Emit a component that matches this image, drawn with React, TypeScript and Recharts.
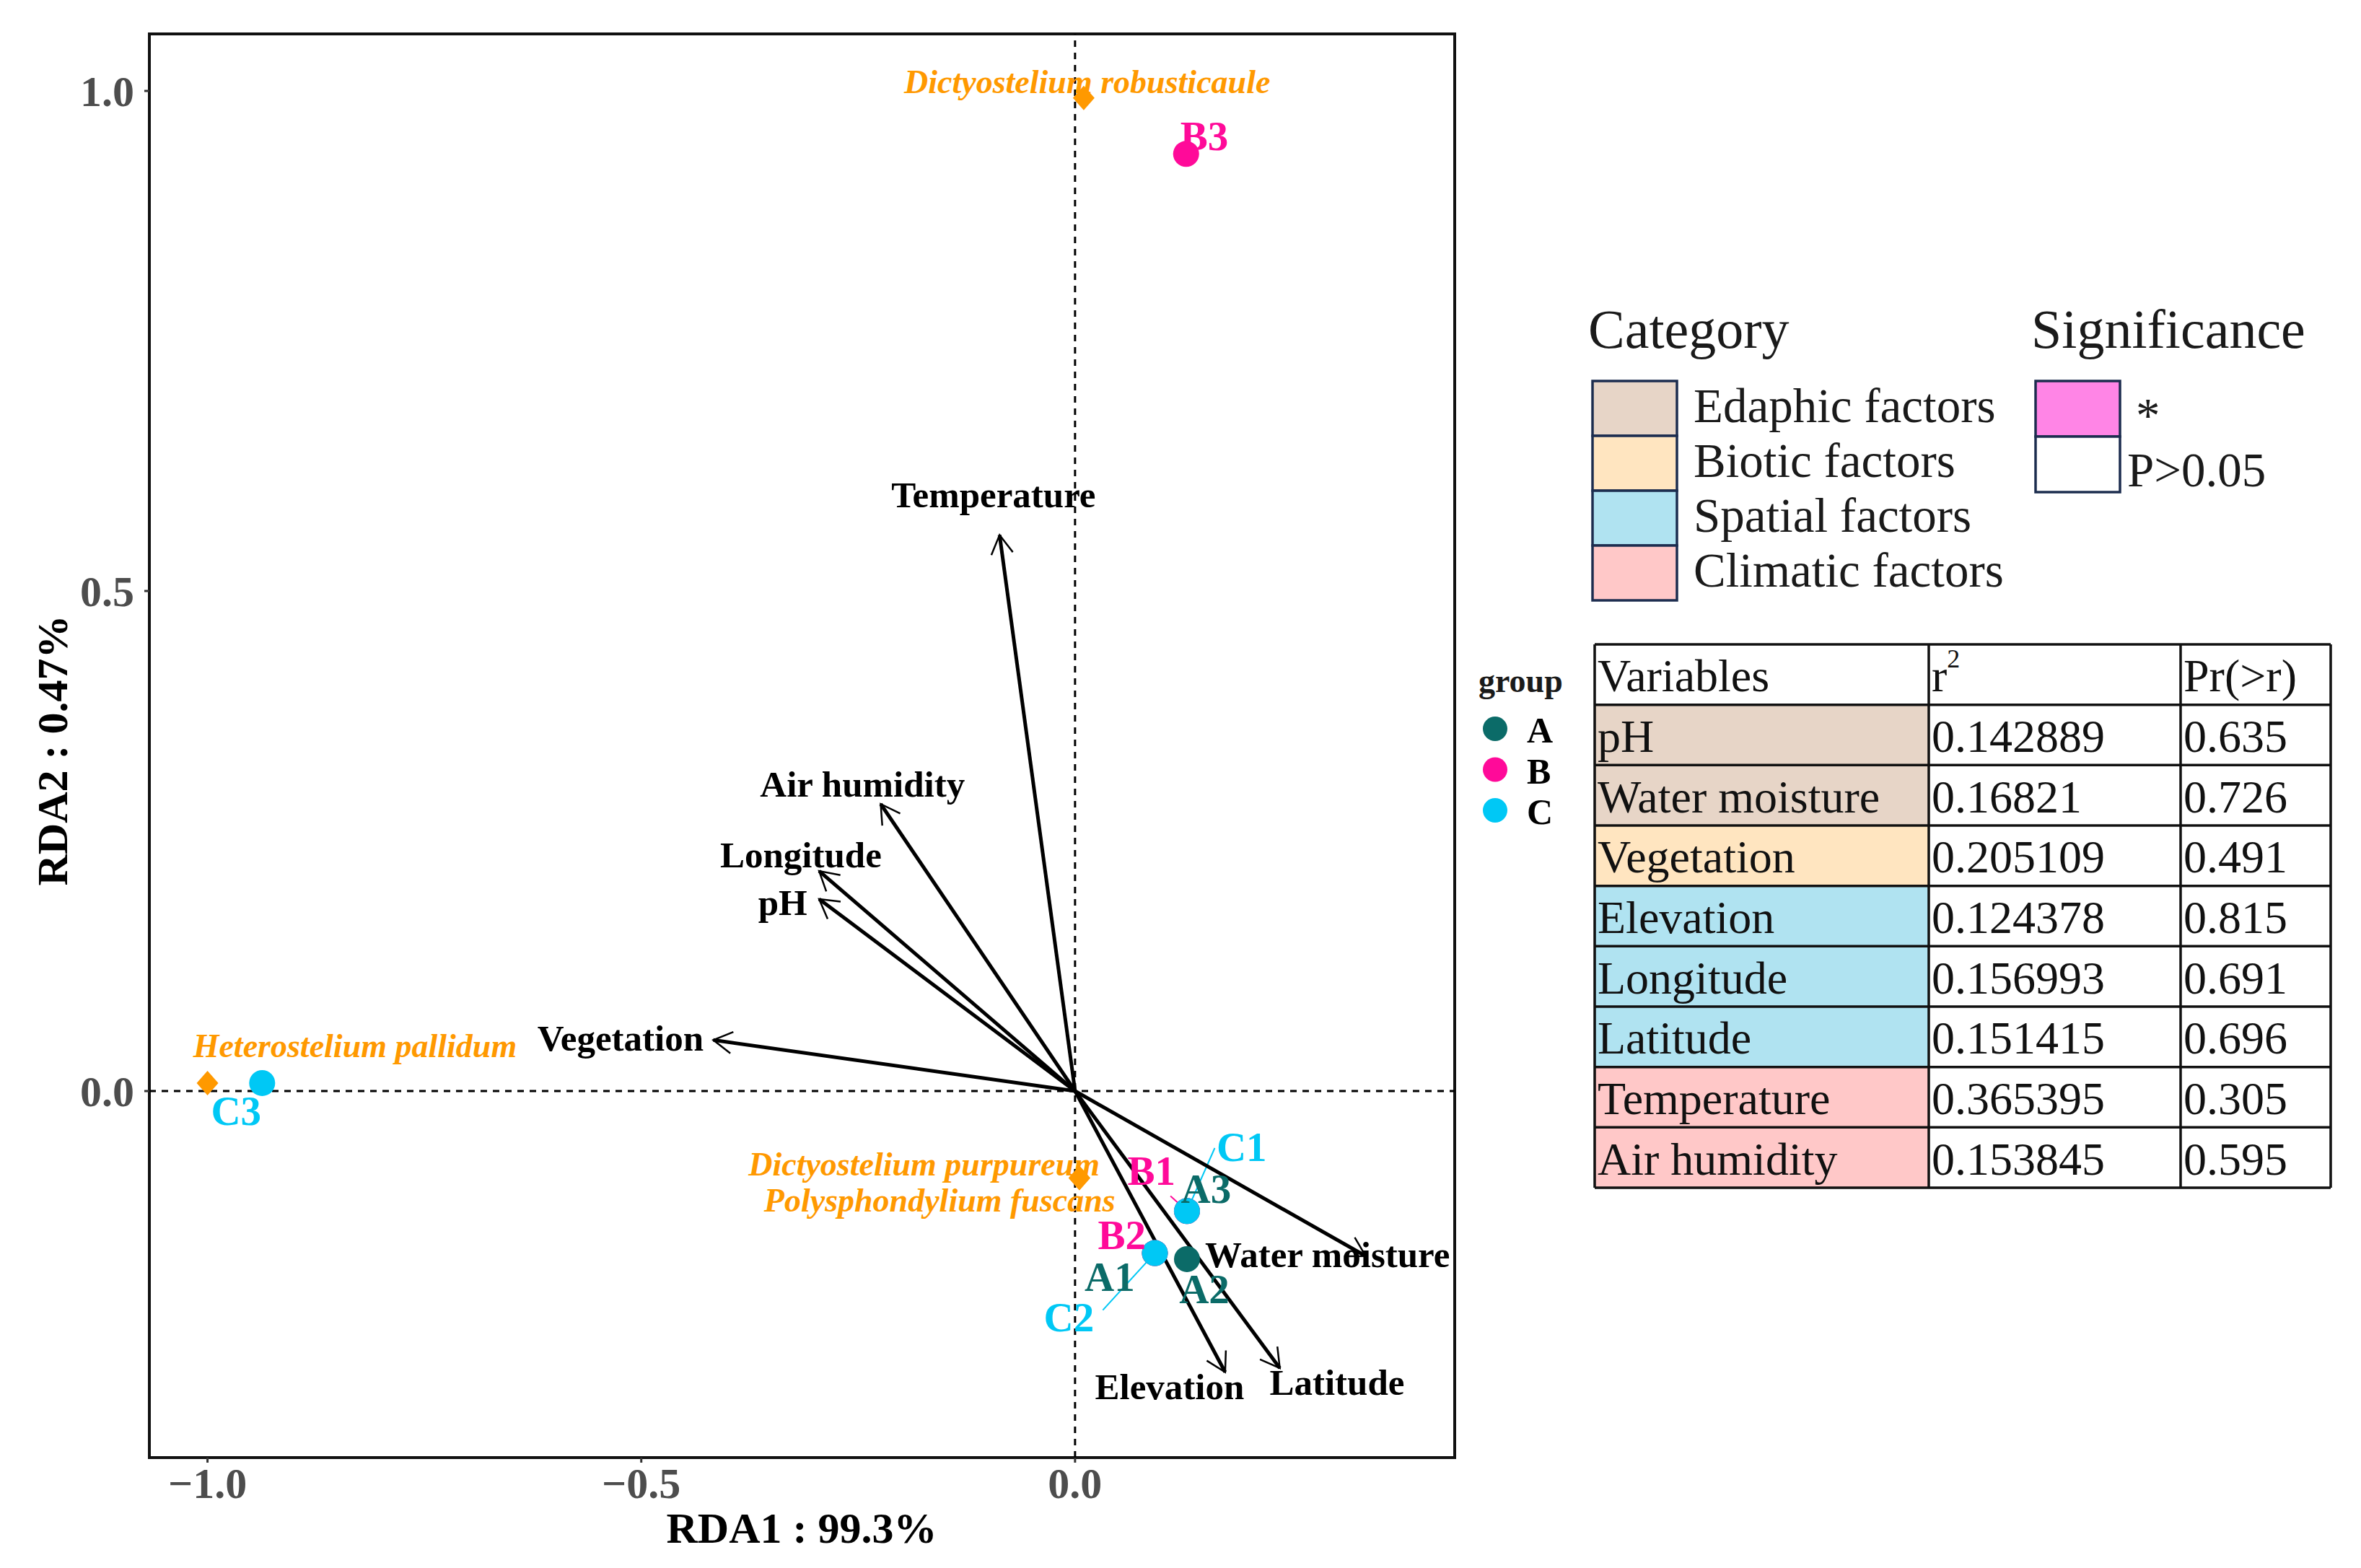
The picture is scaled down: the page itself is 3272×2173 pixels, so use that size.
import React from "react";
import {
  ScatterChart,
  Scatter,
  XAxis,
  YAxis,
  ReferenceLine,
  ReferenceArea,
} from "recharts";

const SERIF = '"Liberation Serif", "Times New Roman", serif';

// environmental fitted vectors (arrow tips) and where their names sit
const envNames = ["Temperature", "Air humidity", "Longitude", "pH", "Vegetation", "Water moisture", "Elevation", "Latitude"];
const envRDA1 = [-0.087, -0.224, -0.295, -0.295, -0.417, 0.335, 0.173, 0.236];
const envRDA2 = [0.556, 0.287, 0.22, 0.192, 0.051, -0.165, -0.281, -0.277];
const envLabelRDA1 = [-0.094, -0.245, -0.316, -0.337, -0.524, 0.291, 0.109, 0.302];
const envLabelRDA2 = [0.596, 0.307, 0.236, 0.188, 0.053, -0.164, -0.296, -0.2915];

// sites
const groupNames = ["A", "B", "C"];
const groupColors = ["#0B6B68", "#FF0A99", "#00C8F5"];
const siteNames = ["A1", "A2", "A3", "B1", "B2", "B3", "C1", "C2", "C3"];
const siteGroup = ["A", "A", "A", "B", "B", "B", "C", "C", "C"];
const siteRDA1 = [0.092, 0.129, 0.129, 0.129, 0.092, 0.128, 0.129, 0.092, -0.937];
const siteRDA2 = [-0.162, -0.168, -0.12, -0.12, -0.162, 0.937, -0.12, -0.162, 0.008];
const siteLabelRDA1 = [0.04, 0.149, 0.151, 0.088, 0.054, 0.149, 0.192, -0.007, -0.967];
const siteLabelRDA2 = [-0.186, -0.198, -0.098, -0.08, -0.1436, 0.955, -0.0556, -0.2265, -0.02];

// repel segments: label end -> site
const segSite = ["C1", "C2", "B1"];
const segFromRDA1 = [0.161, 0.032, 0.11];
const segFromRDA2 = [-0.057, -0.219, -0.105];

// species
const speciesNames = ["Dictyostelium robusticaule", "Heterostelium pallidum", "Dictyostelium purpureum", "Polysphondylium fuscans"];
const speciesRDA1 = [0.01, -1.0, 0.005, 0.005];
const speciesRDA2 = [0.993, 0.008, -0.087, -0.087];
const speciesLabelRDA1 = [0.014, -0.83, -0.174, -0.156];
const speciesLabelRDA2 = [1.009, 0.045, -0.073, -0.109];
const speciesColor = "#FF9900";

// axes
const xTicks = [-1, -0.5, 0];
const yTicks = [0, 0.5, 1];
const xDomain = [-1.067, 0.4376];
const yDomain = [-0.3665, 1.057];

// legend + envfit table
const categoryNames = ["Edaphic factors", "Biotic factors", "Spatial factors", "Climatic factors"];
const categoryColors = ["#E7D5C7", "#FFE5C0", "#B0E3F1", "#FFC8C8"];
const sigNames = ["*", "P>0.05"];
const sigColors = ["#FF85E6", "#FFFFFF"];
const tableVars = ["pH", "Water moisture", "Vegetation", "Elevation", "Longitude", "Latitude", "Temperature", "Air humidity"];
const tableR2 = ["0.142889", "0.16821", "0.205109", "0.124378", "0.156993", "0.151415", "0.365395", "0.153845"];
const tablePr = ["0.635", "0.726", "0.491", "0.815", "0.691", "0.696", "0.305", "0.595"];
const tableCat = [0, 0, 1, 2, 2, 2, 3, 3];

const fmtTick = (v: number) => (v < 0 ? "\u2212" + Math.abs(v).toFixed(1) : v.toFixed(1));
const colorOf = (g: string) => groupColors[groupNames.indexOf(g)];

const ArrowShape = (p: any) => {
  const { x1, y1, x2, y2 } = p;
  const a = Math.atan2(y2 - y1, x2 - x1);
  const len = 30;
  const sp = Math.PI / 6;
  const hx1 = x2 - len * Math.cos(a - sp);
  const hy1 = y2 - len * Math.sin(a - sp);
  const hx2 = x2 - len * Math.cos(a + sp);
  const hy2 = y2 - len * Math.sin(a + sp);
  return (
    <g>
      <line x1={x1} y1={y1} x2={x2} y2={y2} stroke="#000" strokeWidth={5} />
      <polyline points={`${hx1},${hy1} ${x2},${y2} ${hx2},${hy2}`} fill="none" stroke="#000" strokeWidth={2.5} />
    </g>
  );
};

const textShape = (size: number, weight: string, style: string) => (p: any) => (
  <text
    x={p.cx}
    y={p.cy}
    textAnchor="middle"
    dominantBaseline="central"
    fill={p.payload.color}
    fontFamily={SERIF}
    fontSize={size}
    fontWeight={weight}
    fontStyle={style}
  >
    {p.payload.label}
  </text>
);

export default function App() {
  const sitesByGroup = groupNames.map((g) =>
    siteNames
      .map((n, i) => ({ name: n, x: siteRDA1[i], y: siteRDA2[i], g: siteGroup[i] }))
      .filter((d) => d.g === g)
  );
  const speciesPts = speciesNames.map((n, i) => ({ name: n, x: speciesRDA1[i], y: speciesRDA2[i] }));
  const speciesLabels = speciesNames.map((n, i) => ({ label: n, x: speciesLabelRDA1[i], y: speciesLabelRDA2[i], color: speciesColor }));
  const siteLabels = siteNames.map((n, i) => ({ label: n, x: siteLabelRDA1[i], y: siteLabelRDA2[i], color: colorOf(siteGroup[i]) }));
  const envLabels = envNames.map((n, i) => ({ label: n, x: envLabelRDA1[i], y: envLabelRDA2[i], color: "#000" }));

  const tx0 = 2210;
  const colW = [463, 349, 208];
  const ty0 = 893;
  const rowH = 83.67;
  const colX = [tx0, tx0 + colW[0], tx0 + colW[0] + colW[1], tx0 + colW[0] + colW[1] + colW[2]];

  return (
    <div style={{ position: "absolute", left: 0, top: 0, width: 3272, height: 2173, background: "#fff" }}>
      <div style={{ position: "absolute", left: 0, top: 0 }}>
        <ScatterChart width={2100} height={2173} margin={{ top: 47, right: 84, bottom: 0, left: 0 }}>
          <XAxis
            type="number"
            dataKey="x"
            domain={xDomain}
            allowDataOverflow
            ticks={xTicks}
            tickFormatter={fmtTick}
            height={153}
            tickSize={7}
            tickMargin={6}
            axisLine={false}
            tickLine={{ stroke: "#333", strokeWidth: 3 }}
            tick={{ fill: "#4D4D4D", fontSize: 60, fontWeight: "bold", fontFamily: SERIF }}
          />
          <YAxis
            type="number"
            dataKey="y"
            domain={yDomain}
            allowDataOverflow
            ticks={yTicks}
            tickFormatter={fmtTick}
            width={207}
            tickSize={7}
            tickMargin={14}
            axisLine={false}
            tickLine={{ stroke: "#333", strokeWidth: 3 }}
            tick={{ fill: "#4D4D4D", fontSize: 60, fontWeight: "bold", fontFamily: SERIF }}
          />
          <ReferenceLine x={0} stroke="#000" strokeWidth={3} strokeDasharray="9 8" />
          <ReferenceLine y={0} stroke="#000" strokeWidth={3} strokeDasharray="9 8" />

          <Scatter
            data={speciesPts}
            isAnimationActive={false}
            shape={(p: any) => (
              <polygon
                points={`${p.cx},${p.cy - 17} ${p.cx + 15},${p.cy} ${p.cx},${p.cy + 17} ${p.cx - 15},${p.cy}`}
                fill={speciesColor}
              />
            )}
          />
          {sitesByGroup.map((data, gi) => (
            <Scatter
              key={groupNames[gi]}
              data={data}
              isAnimationActive={false}
              shape={(p: any) => <circle cx={p.cx} cy={p.cy} r={18} fill={groupColors[gi]} />}
            />
          ))}

          {segSite.map((s, i) => {
            const k = siteNames.indexOf(s);
            return (
              <ReferenceLine
                key={"seg" + s}
                segment={[
                  { x: segFromRDA1[i], y: segFromRDA2[i] },
                  { x: siteRDA1[k], y: siteRDA2[k] },
                ]}
                stroke={colorOf(siteGroup[k])}
                strokeWidth={2}
                ifOverflow="visible"
              />
            );
          })}

          {envNames.map((n, i) => (
            <ReferenceLine
              key={"arrow" + n}
              segment={[
                { x: 0, y: 0 },
                { x: envRDA1[i], y: envRDA2[i] },
              ]}
              ifOverflow="visible"
              shape={ArrowShape}
            />
          ))}

          <Scatter data={speciesLabels} isAnimationActive={false} shape={textShape(46, "bold", "italic")} />
          <Scatter data={envLabels} isAnimationActive={false} shape={textShape(51, "bold", "normal")} />
          <Scatter data={siteLabels} isAnimationActive={false} shape={textShape(57, "bold", "normal")} />

          <ReferenceArea
            x1={xDomain[0]}
            x2={xDomain[1]}
            y1={yDomain[0]}
            y2={yDomain[1]}
            fill="none"
            fillOpacity={0}
            stroke="#111"
            strokeWidth={4}
            ifOverflow="visible"
          />
        </ScatterChart>
      </div>

      <svg width={3272} height={2173} style={{ position: "absolute", left: 0, top: 0, pointerEvents: "none" }} fontFamily={SERIF}>
        {/* axis titles */}
        <text x={1111} y={2118} textAnchor="middle" dominantBaseline="central" fontSize={60} fontWeight="bold" fill="#000">
          RDA1 : 99.3%
        </text>
        <text
          x={73}
          y={1040}
          textAnchor="middle"
          dominantBaseline="central"
          fontSize={60}
          fontWeight="bold"
          fill="#000"
          transform="rotate(-90 73 1040)"
        >
          RDA2 : 0.47%
        </text>

        {/* Category legend */}
        <text x={2201} y={482} fontSize={76} fill="#1a1a1a">Category</text>
        {categoryNames.map((c, i) => (
          <g key={c}>
            <rect x={2207} y={528 + i * 76} width={117} height={76} fill={categoryColors[i]} stroke="#1C2D4F" strokeWidth={3.5} />
            <text x={2347} y={528 + i * 76 + 34} dominantBaseline="central" fontSize={67} fill="#1a1a1a">
              {c}
            </text>
          </g>
        ))}

        {/* Significance legend */}
        <text x={2815} y={482} fontSize={76} fill="#1a1a1a">Significance</text>
        {sigNames.map((s, i) => (
          <rect key={s} x={2821} y={528 + i * 77} width={117} height={77} fill={sigColors[i]} stroke="#1C2D4F" strokeWidth={3.5} />
        ))}
        <text x={2960} y={598} fontSize={67} fill="#1a1a1a">{sigNames[0]}</text>
        <text x={2948} y={651} dominantBaseline="central" fontSize={67} fill="#1a1a1a">{sigNames[1]}</text>

        {/* group legend */}
        <text x={2049} y={943} dominantBaseline="central" fontSize={46} fontWeight="bold" fill="#1a1a1a">group</text>
        {groupNames.map((g, i) => (
          <g key={g}>
            <circle cx={2072} cy={1010 + i * 56.5} r={17} fill={groupColors[i]} />
            <text x={2116} y={1012 + i * 56.5} dominantBaseline="central" fontSize={50} fontWeight="bold" fill="#000">
              {g}
            </text>
          </g>
        ))}

        {/* envfit table */}
        {tableVars.map((v, i) => (
          <rect key={"f" + v} x={colX[0]} y={ty0 + (i + 1) * rowH} width={colW[0]} height={rowH} fill={categoryColors[tableCat[i]]} />
        ))}
        {Array.from({ length: tableVars.length + 2 }, (_, i) => (
          <line key={"h" + i} x1={colX[0]} x2={colX[3]} y1={ty0 + i * rowH} y2={ty0 + i * rowH} stroke="#111" strokeWidth={3.5} />
        ))}
        {colX.map((x, i) => (
          <line key={"v" + i} x1={x} x2={x} y1={ty0} y2={ty0 + (tableVars.length + 1) * rowH} stroke="#111" strokeWidth={3.5} />
        ))}
        <text x={colX[0] + 4} y={ty0 + rowH / 2 + 2} dominantBaseline="central" fontSize={64} fill="#111">Variables</text>
        <text x={colX[1] + 4} y={ty0 + rowH / 2 + 2} dominantBaseline="central" fontSize={64} fill="#111">
          r<tspan dy={-24} fontSize={36}>2</tspan>
        </text>
        <text x={colX[2] + 4} y={ty0 + rowH / 2 + 2} dominantBaseline="central" fontSize={64} fill="#111">Pr(&gt;r)</text>
        {tableVars.map((v, i) => {
          const cy = ty0 + (i + 1.5) * rowH + 2;
          return (
            <g key={"t" + v}>
              <text x={colX[0] + 4} y={cy} dominantBaseline="central" fontSize={64} fill="#111">{v}</text>
              <text x={colX[1] + 4} y={cy} dominantBaseline="central" fontSize={64} fill="#111">{tableR2[i]}</text>
              <text x={colX[2] + 4} y={cy} dominantBaseline="central" fontSize={64} fill="#111">{tablePr[i]}</text>
            </g>
          );
        })}
      </svg>
    </div>
  );
}
